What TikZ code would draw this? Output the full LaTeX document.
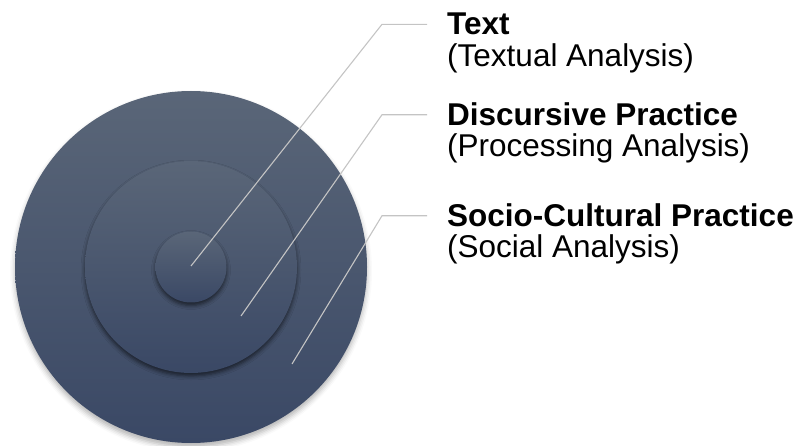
\documentclass[tikz,border=0pt]{standalone}
\usepackage{fontspec}
\setmainfont{Liberation Sans}
\usetikzlibrary{shadows.blur}

\definecolor{discTop}{HTML}{5A6678}
\definecolor{discBot}{HTML}{3A4865}
\definecolor{leadGray}{HTML}{C4C4C4}

\begin{document}
\begin{tikzpicture}
    [x=1pt, y=-1pt,
    disc/.style={circle, inner sep=0pt, top color=discTop, bottom color=discBot, draw=none},
    discshadow/.style={blur shadow={shadow xshift=0pt, shadow yshift=-3pt, shadow blur radius=4pt, shadow opacity=60}},
    leader/.style={leadGray, line width=1.1pt},
    title/.style={anchor=base west, inner sep=0pt, font=\fontsize{31.5}{32}\selectfont\bfseries},
    sub/.style={anchor=base west, inner sep=0pt, font=\fontsize{31.5}{32}\selectfont}]

    \useasboundingbox (0,0) rectangle (803,446);

    % three nested circles
    \node[disc, minimum size=352pt, blur shadow={shadow xshift=0pt, shadow yshift=-4pt, shadow blur radius=5pt, shadow opacity=30}] (outer) at (191,267) {};
    \node[disc, discshadow, minimum size=212pt] (middle) at (191,267) {};
    \node[disc, discshadow, minimum size=71pt] (inner) at (191,267) {};

    % end points of the leaders
    \coordinate (pTxt) at (191,266);
    \coordinate (pDis) at (241,316);
    \coordinate (pSoc) at (292,364);

    % Labels
    \node[title] (txt) at (447,35) {Text};
    \node[sub] (txtSub) at ([yshift=-32pt]txt.base west) {(Textual Analysis)};
    \node[title] (dis) at (447,126) {Discursive Practice};
    \node[sub] (disSub) at ([yshift=-31pt]dis.base west) {(Processing Analysis)};
    \node[title] (soc) at (447,227) {Socio-Cultural Practice};
    \node[sub] (socSub) at ([yshift=-31pt]soc.base west) {(Social Analysis)};

    % leader lines
    \draw[leader] (pTxt) -- (txt.west -| 382,0) -- ([xshift=-20pt]txt.west);
    \draw[leader] (pDis) -- (dis.west -| 382,0) -- ([xshift=-20pt]dis.west);
    \draw[leader] (pSoc) -- (soc.west -| 382,0) -- ([xshift=-20pt]soc.west);

\end{tikzpicture}
\end{document}
